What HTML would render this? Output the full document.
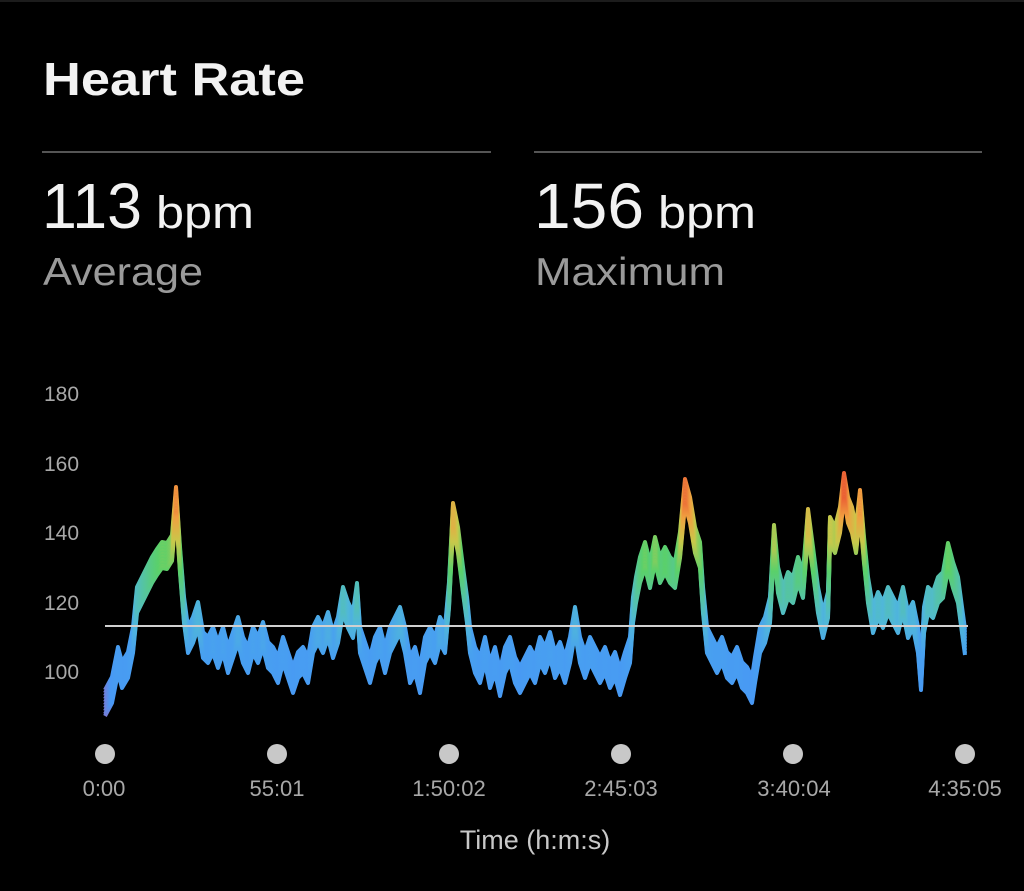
<!DOCTYPE html>
<html><head><meta charset="utf-8"><style>
html,body{margin:0;padding:0;background:#000;}
svg{display:block;font-family:"Liberation Sans",sans-serif;}
</style></head><body>
<svg width="1024" height="891" viewBox="0 0 1024 891" xmlns="http://www.w3.org/2000/svg">
<rect width="1024" height="891" fill="#000"/>
<rect x="0" y="0" width="1024" height="2" fill="#1c1c1c"/>
<text x="43" y="95" font-size="46" font-weight="bold" fill="#f2f2f2" textLength="262" lengthAdjust="spacingAndGlyphs">Heart Rate</text>
<line x1="42" y1="152" x2="491" y2="152" stroke="#555" stroke-width="2"/>
<line x1="534" y1="152" x2="982" y2="152" stroke="#555" stroke-width="2"/>
<text x="42" y="228" fill="#f2f2f2"><tspan font-size="64" textLength="100" lengthAdjust="spacingAndGlyphs">113</tspan><tspan font-size="45" dx="14" textLength="98" lengthAdjust="spacingAndGlyphs">bpm</tspan></text>
<text x="534" y="228" fill="#f2f2f2"><tspan font-size="64" textLength="110" lengthAdjust="spacingAndGlyphs">156</tspan><tspan font-size="45" dx="14" textLength="98" lengthAdjust="spacingAndGlyphs">bpm</tspan></text>
<text x="43" y="285" font-size="39" fill="#9a9a9a" textLength="160" lengthAdjust="spacingAndGlyphs">Average</text>
<text x="535" y="285" font-size="39" fill="#9a9a9a" textLength="190" lengthAdjust="spacingAndGlyphs">Maximum</text>
<g font-size="21" fill="#a8a8a8">
<text x="44" y="401">180</text>
<text x="44" y="471">160</text>
<text x="44" y="540">140</text>
<text x="44" y="610">120</text>
<text x="44" y="679">100</text>
</g>
<defs>
<linearGradient id="g" gradientUnits="userSpaceOnUse" x1="0" y1="475" x2="0" y2="720">
<stop offset="0" stop-color="#e8402e"/>
<stop offset="0.12" stop-color="#f0a040"/>
<stop offset="0.22" stop-color="#c8c84a"/>
<stop offset="0.34" stop-color="#5ad06a"/>
<stop offset="0.55" stop-color="#50b8d8"/>
<stop offset="0.68" stop-color="#48a0f0"/>
<stop offset="0.88" stop-color="#4898f4"/>
<stop offset="0.95" stop-color="#8a70c8"/>
<stop offset="1" stop-color="#d04060"/>
</linearGradient>
<polyline id="s" fill="none" stroke="url(#g)" stroke-width="4" stroke-linejoin="round" points="
105,703 112,690 118,660 122,675 128,665 133,640 137,600 142,590 147,580 152,570 157,562 162,555 167,556 172,548 176,500 180,560 184,610 188,640 193,630 198,615 203,645 208,650 213,640 218,655 223,640 228,660 233,645 238,630 243,650 248,660 253,640 258,650 263,635 268,655 273,660 278,670 283,650 288,665 293,680 298,665 303,660 308,670 313,640 318,630 323,640 328,625 333,645 338,630 343,600 348,615 353,625 357,596 360,640 365,655 370,670 375,650 380,640 385,660 390,640 395,630 400,620 405,640 410,670 415,660 420,680 425,650 430,640 435,650 440,630 445,640 449,595 453,516 458,540 463,580 467,610 470,640 475,660 480,670 485,650 490,675 495,660 500,683 505,660 510,650 515,670 520,680 525,670 530,660 535,670 540,650 545,660 550,645 555,665 560,655 565,670 570,650 575,620 580,650 585,665 590,650 595,660 600,670 605,660 610,675 615,665 620,682 625,665 630,650 633,610 636,590 640,570 645,555 650,575 655,550 660,570 665,560 670,570 675,575 680,545 685,492 690,510 695,540 700,555 703,600 707,640 712,650 717,660 722,650 727,665 732,670 737,660 742,675 747,680 752,690 755,670 760,640 765,630 770,610 774,538 778,580 783,600 788,585 793,590 798,570 803,585 808,522 813,560 818,600 823,625 828,605 830,530 835,540 840,520 844,486 848,510 852,520 856,540 860,503 864,550 868,590 873,620 878,605 883,615 888,600 893,610 898,620 903,600 908,625 913,615 918,640 921,677 924,620 928,600 933,605 938,590 943,585 948,556 953,575 958,590 962,620 965,642"/>
</defs>
<use href="#s" y="-13"/><use href="#s" y="-10"/><use href="#s" y="-7"/><use href="#s" y="-4"/><use href="#s" y="-1"/><use href="#s" y="2"/><use href="#s" y="5"/><use href="#s" y="8"/><use href="#s" y="11"/><use href="#s" y="13"/>
<line x1="105" y1="626" x2="968" y2="626" stroke="#d0d0d0" stroke-width="2"/>
<g fill="#c8c8c8">
<circle cx="105" cy="754" r="10"/><circle cx="277" cy="754" r="10"/><circle cx="449" cy="754" r="10"/>
<circle cx="621" cy="754" r="10"/><circle cx="793" cy="754" r="10"/><circle cx="965" cy="754" r="10"/>
</g>
<g font-size="22" fill="#a8a8a8" text-anchor="middle">
<text x="104" y="796">0:00</text>
<text x="277" y="796">55:01</text>
<text x="449" y="796">1:50:02</text>
<text x="621" y="796">2:45:03</text>
<text x="794" y="796">3:40:04</text>
<text x="965" y="796">4:35:05</text>
</g>
<text x="535" y="849" font-size="27" fill="#c8c8c8" text-anchor="middle">Time (h:m:s)</text>
</svg>
</body></html>
